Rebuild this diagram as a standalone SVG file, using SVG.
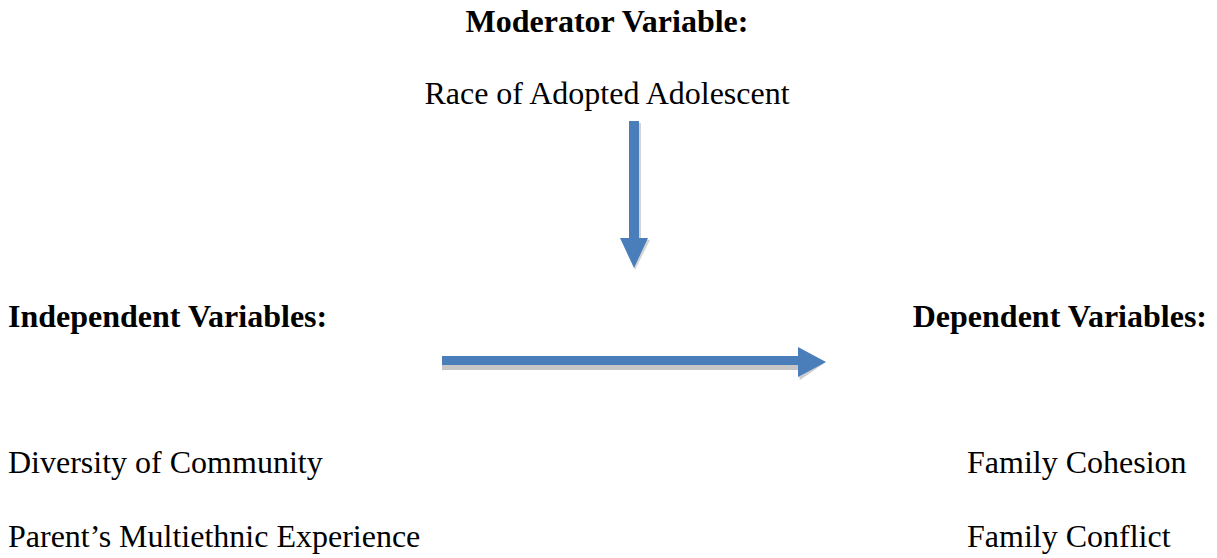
<svg xmlns="http://www.w3.org/2000/svg" width="1217" height="558" viewBox="0 0 1217 558">
<style>
.t{font-family:"Liberation Serif","Times New Roman",serif;font-size:32px;fill:#000}
.b{font-weight:bold}
.arrow{fill:#4A7EBB}
.shadow{fill:#B8B8B8}
</style>
<rect width="1217" height="558" fill="#fff"/>
<g id="moderator">
<text class="t b" x="607" y="32" text-anchor="middle">Moderator Variable:</text>
<text class="t" x="607" y="104" text-anchor="middle">Race of Adopted Adolescent</text>
</g>
<g id="independent">
<text class="t b" x="8" y="327">Independent Variables:</text>
<text class="t" x="8" y="473">Diversity of Community</text>
<text class="t" x="8" y="547">Parent’s Multiethnic Experience</text>
</g>
<g id="dependent">
<text class="t b" x="1207" y="327" text-anchor="end">Dependent Variables:</text>
<text class="t" x="967" y="473">Family Cohesion</text>
<text class="t" x="967" y="547">Family Conflict</text>
</g>
<g id="connectors">
<polygon class="shadow" points="631,123 641,123 641,240 650,240 635,270 622,240 631,240" opacity="0.6"/>
<polygon class="arrow" points="629,121 639,121 639,238 648,238 634,268 620,238 629,238"/>
<polygon class="shadow" points="442,365 798,365 798,370 442,370" opacity="0.8"/>
<polygon class="shadow" points="798,372 826,362 800,380" opacity="0.7"/>
<polygon class="arrow" points="442,356 798,356 798,347 826,362 798,377 798,365 442,365"/>
</g>
</svg>
